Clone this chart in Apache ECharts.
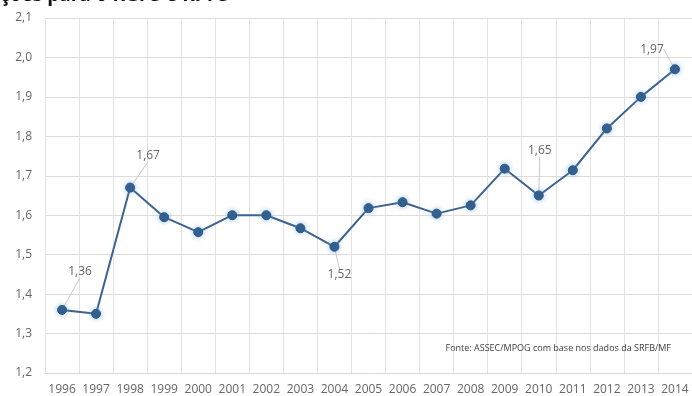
<!DOCTYPE html>
<html>
<head>
<meta charset="utf-8">
<script src="https://cdn.jsdelivr.net/npm/echarts@6/dist/echarts.min.js"></script>
<style>
	html, body { margin: 0; padding: 0; background: #fff; }
	#chartDiv { width: 692px; height: 396px; }
</style>
</head>
<body>
<div id="chartDiv"></div>
<script>
var years = ['1996', '1997', '1998', '1999', '2000', '2001', '2002', '2003', '2004', '2005',
	'2006', '2007', '2008', '2009', '2010', '2011', '2012', '2013', '2014'];
var values = [1.36, 1.35, 1.67, 1.595, 1.557, 1.60, 1.60, 1.567, 1.52, 1.618,
	1.633, 1.604, 1.625, 1.718, 1.65, 1.714, 1.82, 1.90, 1.97];
// pontos com rótulo
var labeled = [0, 2, 8, 14, 18];
var yTicks = { min: 1.2, max: 2.1, step: 0.1 };

var titleText = 'ções para o RGPS e RPPS';
var sourceText = 'Fonte: ASSEC/MPOG com base nos dados da SRFB/MF';

// deslocamento dos rótulos (dx, dy) em px
var labelShift = {
	0: [18, -22],
	2: [18, -16],
	8: [5, 12],
	14: [1, -29],
	18: [-23, -4]
};

var chart = echarts.init(document.getElementById('chartDiv'));

function fmt(v) {
	return Number(v).toFixed(2).replace('.', ',');
}

var seriesData = [];
for (var i = 0; i < values.length; i++) {
	var item = { value: values[i] };
	if (labeled.indexOf(i) >= 0) {
		item.label = {
			show: true,
			position: i == 8 ? 'bottom' : 'top',
			formatter: function (p) { return fmt(p.value); }
		};
	}
	seriesData.push(item);
}

var option = {
	animation: false,
	graphic: [
		{
			type: 'text',
			left: 0,
			top: -14,
			style: {
				text: titleText,
				font: 'bold 19px "Open Sans"',
				fill: '#111'
			}
		}
	],
	title: {
		text: sourceText,
		right: 16,
		top: 339,
		textStyle: {
			fontSize: 9,
			fontWeight: 'normal',
			fontFamily: 'Open Sans',
			color: '#404040'
		}
	},
	grid: {
		left: 45,
		right: -3,
		top: 18,
		bottom: 23
	},
	xAxis: {
		type: 'category',
		data: years,
		boundaryGap: true,
		axisLine: { show: true, lineStyle: { color: '#d9d9d9', width: 1 } },
		axisTick: { show: false },
		splitLine: { show: true, lineStyle: { color: '#e3e3e3', width: 1 } },
		axisLabel: {
			interval: 0,
			margin: 11,
			fontSize: 12,
			fontFamily: 'Open Sans',
			color: '#666'
		}
	},
	yAxis: {
		type: 'value',
		min: yTicks.min,
		max: yTicks.max,
		interval: yTicks.step,
		axisLine: { show: false },
		axisTick: { show: false },
		splitLine: { lineStyle: { color: '#dcdcdc', width: 1 } },
		axisLabel: {
			margin: 13,
			fontSize: 12,
			fontFamily: 'Open Sans',
			color: '#666',
			formatter: function (v) { return v.toFixed(1).replace('.', ','); }
		}
	},
	series: [
		{
			type: 'line',
			data: seriesData,
			symbol: 'circle',
			symbolSize: 9,
			lineStyle: { color: '#3b6290', width: 2 },
			itemStyle: {
				color: '#2d5886',
				borderColor: '#2d5886',
				shadowColor: 'rgba(110,170,225,0.7)',
				shadowBlur: 5
			},
			label: {
				fontSize: 12,
				fontFamily: 'Open Sans',
				color: '#666'
			},
			labelLine: {
				show: true,
				lineStyle: { color: '#c8c8c8', width: 1 }
			},
			labelLayout: function (params) {
				var s = labelShift[params.dataIndex];
				if (!s) return {};
				return { dx: s[0], dy: s[1] };
			}
		}
	]
};

chart.setOption(option, true);
</script>
</body>
</html>
